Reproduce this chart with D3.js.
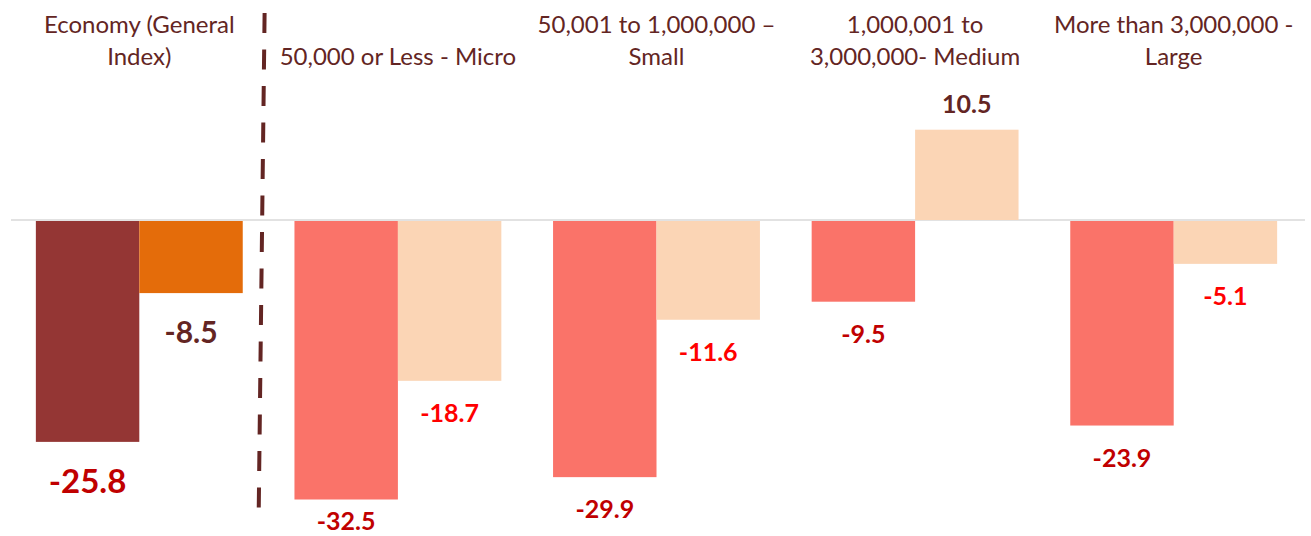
<!DOCTYPE html>
<html>
<head>
<meta charset="utf-8">
<script src="https://cdn.jsdelivr.net/npm/d3@7"></script>
<style>
  body { margin: 0; background: #fff; }
  svg { display: block; font-family: Lato, "Open Sans", sans-serif; }
</style>
</head>
<body>
<svg id="chart"></svg>
<script>
// data
const categories = [
    ["Economy (General", "Index)"],
    ["50,000 or Less - Micro"],
    ["50,001 to 1,000,000 \u2013", "Small"],
    ["1,000,001 to", "3,000,000- Medium"],
    ["More than 3,000,000 -", "Large"]
];
const seriesA = [-25.8, -32.5, -29.9, -9.5, -23.9];
const seriesB = [-8.5, -18.7, -11.6, 10.5, -5.1];

// layout
const width = 1311;
const height = 536;
const textColor = "#632523";

const svg = d3.select("#chart")
    .attr("width", width)
    .attr("height", height);

const x = d3.scaleBand()
    .domain(d3.range(categories.length))
    .range([10, 1303])
    .paddingInner(0.2)
    .paddingOuter(0.1);

const xSub = d3.scaleBand()
    .domain(["A", "B"])
    .range([0, x.bandwidth()]);

const y = d3.scaleLinear()
    .domain([-35, 15])
    .range([521, 91]);

function barColor(key, i) {
    if (i === 0) return key === "A" ? "#943634" : "#E46C0A";
    return key === "A" ? "#FA7369" : "#FBD5B5";
}

function labelColor(key, i, v) {
    if (v > 0 || (i === 0 && key === "B")) return textColor;
    return key === "A" ? "#C00000" : "#FF0000";
}

const rows = [];
categories.forEach(function(c, i) {
    rows.push({i: i, key: "A", value: seriesA[i]});
    rows.push({i: i, key: "B", value: seriesB[i]});
});

// zero line
svg.append("line")
    .attr("x1", x.range()[0] + 1)
    .attr("x2", x.range()[1] + 2)
    .attr("y1", y(0))
    .attr("y2", y(0))
    .attr("stroke", "#D9D9D9")
    .attr("stroke-width", 1.5);

// bars
svg.selectAll("rect.bar")
    .data(rows)
    .enter()
    .append("rect")
    .attr("class", "bar")
    .attr("x", d => x(d.i) + xSub(d.key))
    .attr("y", d => Math.min(y(d.value), y(0)) + (d.value < 0 ? 1 : 0))
    .attr("width", xSub.bandwidth())
    .attr("height", d => Math.abs(y(d.value) - y(0)) - (d.value < 0 ? 1 : 0))
    .attr("fill", d => barColor(d.key, d.i));

// value labels
svg.selectAll("text.val")
    .data(rows)
    .enter()
    .append("text")
    .attr("class", "val")
    .attr("x", d => x(d.i) + xSub(d.key) + xSub.bandwidth() / 2)
    .attr("y", function(d) {
        const big = d.i === 0;
        if (d.value > 0) return y(d.value) - 27;
        return Math.min(y(d.value) + (big ? 38 : 31), height - 16);
    })
    .attr("text-anchor", "middle")
    .attr("dominant-baseline", "central")
    .attr("font-weight", "bold")
    .attr("font-size", function(d) {
        if (d.i === 0) return d.key === "A" ? 33 : 30;
        return 25;
    })
    .attr("fill", d => labelColor(d.key, d.i, d.value))
    .text(d => d.value.toFixed(1));

// category labels
const lineY = [33, 65];
categories.forEach(function(lines, i) {
    const start = lines.length === 1 ? 1 : 0;
    lines.forEach(function(t, j) {
        svg.append("text")
            .attr("x", x(i) + x.bandwidth() / 2)
            .attr("y", lineY[start + j])
            .attr("text-anchor", "middle")
            .attr("font-size", 24)
            .attr("fill", textColor)
            .text(t);
    });
});

// dashed divider between economy and size groups
const divX = (x(0) + x.bandwidth() + x(1)) / 2 - 7;
svg.append("line")
    .attr("x1", divX + 3)
    .attr("x2", divX - 3)
    .attr("y1", 13)
    .attr("y2", 521)
    .attr("stroke", textColor)
    .attr("stroke-width", 4)
    .attr("stroke-dasharray", "20,16.5");
</script>
</body>
</html>
